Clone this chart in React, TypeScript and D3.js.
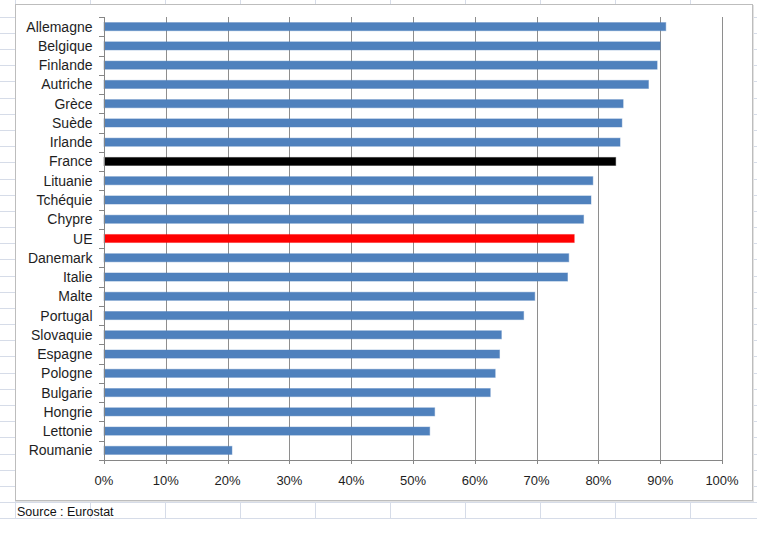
import React from "react";
import * as d3 from "d3";

const categories = [
  "Allemagne", "Belgique", "Finlande", "Autriche", "Grèce", "Suède", "Irlande",
  "France", "Lituanie", "Tchéquie", "Chypre", "UE", "Danemark", "Italie", "Malte",
  "Portugal", "Slovaquie", "Espagne", "Pologne", "Bulgarie", "Hongrie", "Lettonie", "Roumanie",
];
const values = [
  90.9, 90.0, 89.5, 88.1, 84.0, 83.8, 83.5,
  82.8, 79.1, 78.8, 77.6, 76.1, 75.2, 75.0, 69.7,
  67.9, 64.3, 64.0, 63.3, 62.5, 53.5, 52.7, 20.7,
];
const xTicks = [0, 10, 20, 30, 40, 50, 60, 70, 80, 90, 100];
const sourceText = "Source : Eurostat";

const W = 772;
const H = 546;
const FONT = "'Liberation Sans', Arial, sans-serif";

export default function App() {
  const plot = { left: 104, right: 722, top: 17, bottom: 460 };
  const x = d3.scaleLinear().domain([0, 100]).range([plot.left, plot.right]);
  const y = d3
    .scaleBand<string>()
    .domain(categories)
    .range([plot.top, plot.bottom])
    .paddingInner(0.58)
    .paddingOuter(0.29);
  const step = y.step();
  const barColor = (c: string) => (c === "France" ? "#000000" : c === "UE" ? "#ff0000" : "#4f81bd");
  const barStroke = (c: string) =>
    c === "France" ? "rgba(0,0,0,0.35)" : c === "UE" ? "rgba(255,0,0,0.35)" : "rgba(79,129,189,0.45)";

  // spreadsheet background grid (decoration)
  const sheetCols = d3.range(15, 758, 75);
  const sheetRows = d3.range(0, 32).map((k) => 16.7 + k * 16.18);
  const crisp = (v: number) => Math.round(v) + 0.5;

  const boundaryTicks = d3.range(0, categories.length + 1).map((k) => plot.top + k * step);

  return (
    <svg
      width={W}
      height={H}
      viewBox={`0 0 ${W} ${H}`}
      style={{ position: "absolute", left: 0, top: 0, background: "#ffffff" }}
    >
      <rect x={0} y={0} width={W} height={H} fill="#ffffff" />
      {/* sheet grid */}
      <g stroke="#d6dce8" strokeWidth={1}>
        {sheetCols.map((c) => (
          <line key={"c" + c} x1={crisp(c)} x2={crisp(c)} y1={0} y2={519} />
        ))}
        {sheetRows.map((r) => (
          <line key={"r" + r} x1={0} x2={757} y1={crisp(r)} y2={crisp(r)} />
        ))}
      </g>
      {/* chart area */}
      <rect x={16.5} y={5.5} width={737} height={496} fill="none" stroke="#e2e2e2" strokeWidth={1} />
      <rect x={15.5} y={4.5} width={737} height={496} fill="#ffffff" stroke="#bdbdbd" strokeWidth={1} />

      {/* vertical gridlines */}
      <g stroke="#8e8e8e" strokeWidth={1}>
        {xTicks.slice(1).map((t) => (
          <line key={"g" + t} x1={crisp(x(t))} x2={crisp(x(t))} y1={plot.top} y2={plot.bottom} />
        ))}
      </g>

      {/* bars */}
      <g>
        {categories.map((c, i) => (
          <rect
            key={c}
            x={x(0)}
            y={y(c)!}
            width={x(values[i]) - x(0)}
            height={y.bandwidth()}
            fill={barColor(c)}
            stroke={barStroke(c)}
            strokeWidth={1}
          />
        ))}
      </g>

      {/* axes */}
      <g stroke="#868686" strokeWidth={1}>
        <line x1={crisp(plot.left)} x2={crisp(plot.left)} y1={plot.top} y2={plot.bottom + 4} />
        <line x1={plot.left} x2={plot.right + 0.5} y1={crisp(plot.bottom)} y2={crisp(plot.bottom)} />
        {boundaryTicks.map((t, k) => (
          <line key={"bt" + k} x1={99} x2={plot.left} y1={crisp(t)} y2={crisp(t)} />
        ))}
        {xTicks.map((t) => (
          <line key={"xt" + t} x1={crisp(x(t))} x2={crisp(x(t))} y1={plot.bottom} y2={plot.bottom + 4} />
        ))}
      </g>

      {/* category labels */}
      <g fontFamily={FONT} fontSize={14} fill="#1e1e1e" textAnchor="end">
        {categories.map((c) => (
          <text key={"l" + c} x={92.5} y={y(c)! + y.bandwidth() / 2 + 5}>
            {c}
          </text>
        ))}
      </g>

      {/* x tick labels */}
      <g fontFamily={FONT} fontSize={13} fill="#1e1e1e" textAnchor="middle">
        {xTicks.map((t) => (
          <text key={"xl" + t} x={x(t)} y={484.5}>
            {t + "%"}
          </text>
        ))}
      </g>

      <text x={17} y={516} fontFamily={FONT} fontSize={12.5} fill="#111">
        {sourceText}
      </text>
    </svg>
  );
}
